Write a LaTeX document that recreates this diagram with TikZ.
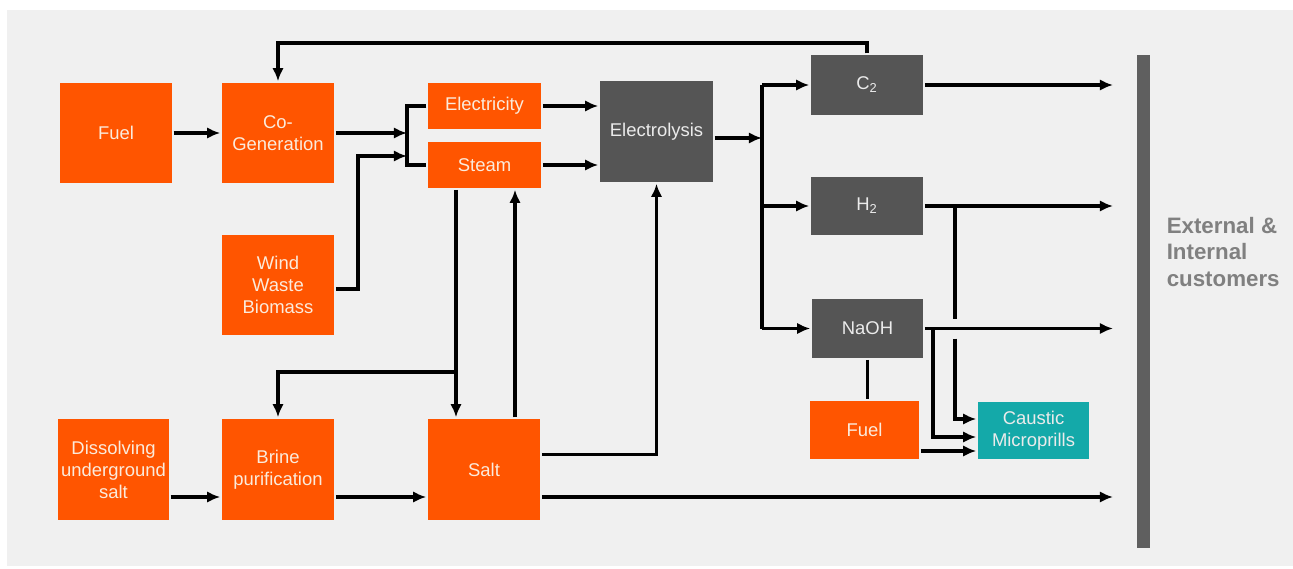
\documentclass[tikz,border=0pt]{standalone}
\usepackage{fontspec}
\setmainfont{Liberation Sans}
\usepackage{xcolor}
\usetikzlibrary{arrows.meta}

\definecolor{plantorange}{HTML}{FF5500}
\definecolor{plantgray}{HTML}{555555}
\definecolor{plantteal}{HTML}{14A9A9}
\definecolor{bgclr}{HTML}{F0F0F0}
\definecolor{barclr}{HTML}{5F5F5F}
\definecolor{boxtext}{HTML}{FBEBDC}
\definecolor{custtext}{HTML}{808080}

\begin{document}
\begin{tikzpicture}[x=0.02cm, y=-0.02cm, >={Latex[length=7.5pt,width=6.5pt]}, line width=2pt,
    unit/.style={rectangle, fill=plantorange, text=boxtext, inner sep=0pt, align=center,
      minimum width=2.24cm, minimum height=2cm, font=\fontsize{10.5}{12.5}\selectfont},
    utility/.style={unit, minimum height=0.92cm},
    product/.style={unit, fill=plantgray, text=white!92!black, minimum height=1.18cm}]
    \useasboundingbox (0,0) rectangle (1293,568);
    \fill[white] (0,0) rectangle (1293,568);
    \fill[bgclr] (7,10) rectangle (1293,566);

    % free ends of the connectors
    \coordinate (mix) at (407,0);
    \coordinate (wwbup) at (358,156);
    \coordinate (down) at (456,0);
    \coordinate (up) at (515,0);
    \coordinate (fan) at (762,0);
    \coordinate (hop) at (955,0);
    \coordinate (tap) at (933,0);
    \coordinate (out) at (1113,0);

    \node (fuel) [unit] at (116,133) {Fuel};
    \node (cogen) [unit] at (278,133) {Co-\\Generation};
    \node (wwb) [unit] at (278,285) {Wind\\Waste\\Biomass};
    \node (diss) [unit, minimum width=2.22cm, minimum height=2.02cm] at (113.5,469.5) {Dissolving\\underground\\salt};
    \node (brine) [unit, minimum height=2.02cm] at (278,469.5) {Brine\\purification};
    \node (salt) [unit, minimum height=2.02cm] at (484,469.5) {Salt};
    \node (elec) [utility, minimum width=2.26cm] at (484.5,106) {Electricity};
    \node (steam) [utility, minimum width=2.26cm] at (484.5,165) {Steam};
    \node (electro) [product, minimum width=2.26cm, minimum height=2.02cm] at (656.5,131.5) {Electrolysis};
    \node (c2) [product, minimum height=1.2cm] at (867,85) {C\textsubscript{2}};
    \node (h2) [product, minimum height=1.16cm] at (867,206) {H\textsubscript{2}};
    \node (naoh) [product, minimum width=2.22cm] at (867.5,328.5) {NaOH};
    \node (fuel2) [utility, minimum width=2.18cm, minimum height=1.16cm] at (864.5,430) {Fuel};
    \node (caus) [unit, fill=plantteal, text=white!92!black, minimum width=2.22cm, minimum height=1.14cm] at (1033.5,430.5) {Caustic\\Microprills};
    \node (bar) [rectangle, fill=barclr, inner sep=0pt, minimum width=0.26cm, minimum height=9.86cm] at (1143.5,301.5) {};
    \node (cust) [anchor=west, align=left, text=custtext, inner sep=0pt,
      font=\fontsize{12.7}{15.3}\selectfont\bfseries] at (1165,252) {External \&\\Internal\\customers};

    % power and steam
    \draw[->] (fuel) -- (cogen);
    \draw[->] (c2.north) -- ++(0,-10) -| (cogen.north);
    \draw[->] (cogen.east) -- (cogen.east -| mix);
    \draw[->] (wwb.east) ++(0,4) -| (wwbup) -- (wwbup -| mix);
    \draw (elec.west) -| (mix |- steam.west) -- (steam.west);
    \draw[->] (elec.east) -- (elec.east -| electro.west);
    \draw[->] (steam.east) -- (steam.east -| electro.west);

    % brine and salt
    \draw[->] (steam.south -| down) -- (salt.north -| down);
    \draw[->] (down |- 0,372) -| (brine.north);
    \draw[->] (salt.north -| up) -- (steam.south -| up);
    \draw[->] ([yshift=-0.55cm]diss.east) -- ([yshift=-0.55cm]brine.west);
    \draw[->] ([yshift=-0.55cm]brine.east) -- ([yshift=-0.55cm]salt.west);
    \draw[->] ([yshift=0.3cm]salt.east) -| (electro.south);
    \draw[->] ([yshift=-0.55cm]salt.east) -- ([yshift=-0.55cm]salt.east -| out);

    % products
    \draw[->] ([yshift=-0.13cm]electro.east) -- ([yshift=-0.13cm]electro.east -| fan);
    \draw (c2.west -| fan) -- (naoh.west -| fan);
    \draw[->] (c2.west -| fan) -- (c2.west);
    \draw[->] (h2.west -| fan) -- (h2.west);
    \draw[->] (naoh.west -| fan) -- (naoh.west);
    \draw[->] (c2.east) -- (c2.east -| out);
    \draw[->] (h2.east) -- (h2.east -| out);
    \draw[->] (naoh.east) -- (naoh.east -| out);

    % caustic microprills
    \draw (h2.east -| hop) -- ([yshift=0.2cm]naoh.east -| hop);
    \draw[->] ([yshift=-0.2cm]naoh.east -| hop) |- ([yshift=0.23cm]caus.west);
    \draw[->] (naoh.east -| tap) |- ([yshift=-0.13cm]caus.west);
    \draw[->] ([yshift=-0.42cm]fuel2.east) -- ([yshift=-0.42cm]fuel2.east -| caus.west);
    \draw (naoh.south) -- (naoh.south |- fuel2.north);
\end{tikzpicture}
\end{document}
